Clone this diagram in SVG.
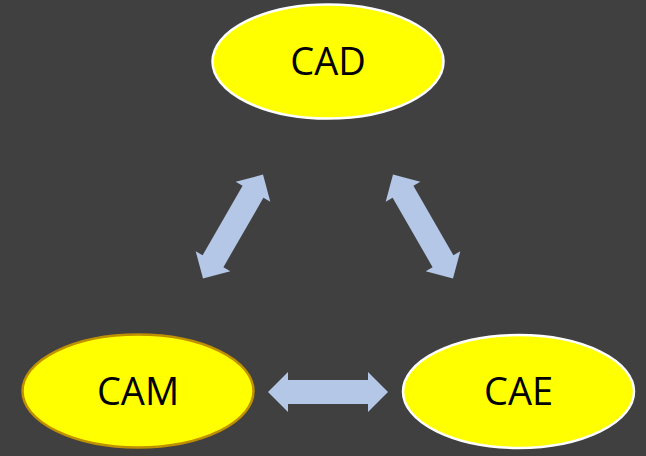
<svg xmlns="http://www.w3.org/2000/svg" width="646" height="456" viewBox="0 0 646 456">
<defs>
<style>
.node{fill:#FFFF00;stroke:#FFFFFF;stroke-width:2.5}
.lbl{font-family:"Open Sans","Noto Sans",sans-serif;font-size:38px;fill:#000;text-anchor:middle}
.arr{fill:#B4C7E7}
</style>
<path id="dbl" d="M-60,0 L-40,-20 L-40,-12 L40,-12 L40,-20 L60,0 L40,20 L40,12 L-40,12 L-40,20 Z"/>
</defs>
<rect width="646" height="456" fill="#404040"/>
<g id="connectors">
<use href="#dbl" class="arr" transform="translate(233,226.5) rotate(-60)"/>
<use href="#dbl" class="arr" transform="translate(423,226.5) rotate(60)"/>
<use href="#dbl" class="arr" transform="translate(328,392)"/>
</g>
<g id="CAD">
<ellipse class="node" cx="328" cy="61.5" rx="115.5" ry="57"/>
<text class="lbl" x="328" y="75">CAD</text>
</g>
<g id="CAM">
<ellipse class="node" cx="138" cy="391" rx="115.5" ry="56.5" style="stroke:#BF9000"/>
<text class="lbl" x="138" y="405">CAM</text>
</g>
<g id="CAE">
<ellipse class="node" cx="518.5" cy="391.5" rx="115.5" ry="56.5"/>
<text class="lbl" x="518.5" y="405">CAE</text>
</g>
</svg>
